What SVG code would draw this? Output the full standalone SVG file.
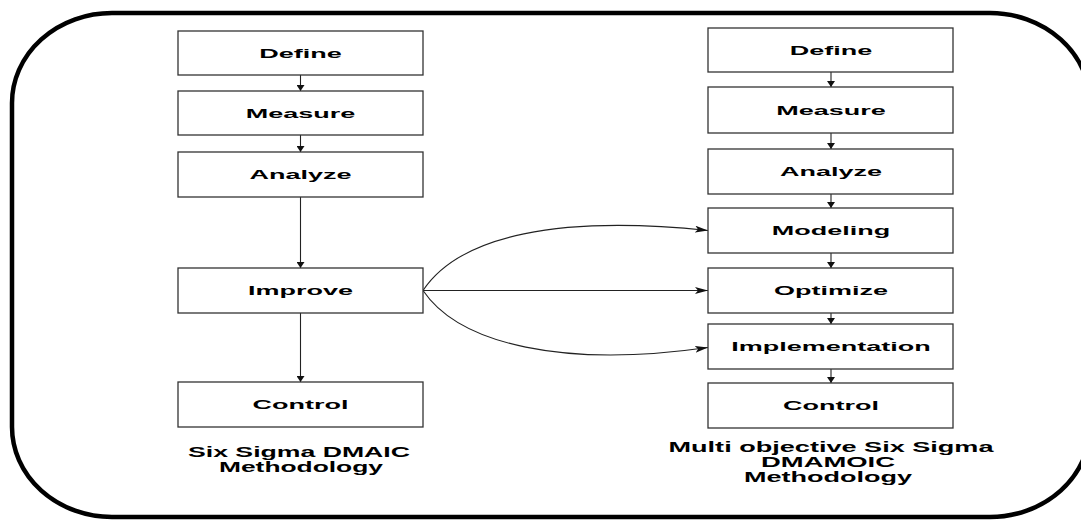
<svg xmlns="http://www.w3.org/2000/svg" width="1081" height="522" viewBox="0 0 1081 522">
<style>
.box{fill:#fff;stroke:#333;stroke-width:1.3}
.t{font-family:"Liberation Sans",Arial,sans-serif;font-weight:bold;font-size:13.5px;fill:#000;text-anchor:middle}
.lbl{font-family:"Liberation Sans",Arial,sans-serif;font-weight:bold;font-size:14px;fill:#000;text-anchor:middle}
.c{fill:none;stroke:#222;stroke-width:1.1}
</style>
<defs>
<marker id="ah" markerUnits="userSpaceOnUse" markerWidth="6" markerHeight="8" refX="6" refY="4" orient="auto" viewBox="0 0 6 8">
<path d="M0,0 L6,4 L0,8 z" fill="#111"/>
</marker>
<marker id="sh" markerUnits="userSpaceOnUse" markerWidth="13" markerHeight="7" refX="13" refY="3.5" orient="auto" viewBox="0 0 13 7">
<path d="M0,0 L13,3.5 L0,7 L3,3.5 z" fill="#111"/>
</marker>
</defs>
<rect id="frame" x="12" y="13" width="1078" height="504" rx="100" ry="90" fill="#fff" stroke="#000" stroke-width="4.5"/>
<g id="connectors">
<path class="c" d="M300.5,75 V91" marker-end="url(#ah)"/>
<path class="c" d="M300.5,135 V152" marker-end="url(#ah)"/>
<path class="c" d="M300.5,197 V268" marker-end="url(#ah)"/>
<path class="c" d="M300.5,313 V382" marker-end="url(#ah)"/>
<path class="c" d="M831,72 V87" marker-end="url(#ah)"/>
<path class="c" d="M831,133 V149" marker-end="url(#ah)"/>
<path class="c" d="M831,194 V208" marker-end="url(#ah)"/>
<path class="c" d="M831,253 V268" marker-end="url(#ah)"/>
<path class="c" d="M831,313 V324" marker-end="url(#ah)"/>
<path class="c" d="M831,369 V383" marker-end="url(#ah)"/>
<path class="c" d="M423,290.5 C460,235 560,215 708,230.5" marker-end="url(#sh)"/>
<path class="c" d="M423,290.5 H708" marker-end="url(#sh)"/>
<path class="c" d="M423,290.5 C460,345 565,368 708,347.5" marker-end="url(#sh)"/>
</g>
<g id="l-define"><rect class="box" x="178" y="31" width="245" height="44"/><text class="t" transform="translate(300.5,57.8) scale(2,1)">Define</text></g>
<g id="l-measure"><rect class="box" x="178" y="91" width="245" height="44"/><text class="t" transform="translate(300.5,117.8) scale(2,1)">Measure</text></g>
<g id="l-analyze"><rect class="box" x="178" y="152" width="245" height="45"/><text class="t" transform="translate(300.5,179.3) scale(2,1)">Analyze</text></g>
<g id="l-improve"><rect class="box" x="178" y="268" width="245" height="45"/><text class="t" transform="translate(300.5,295.3) scale(2,1)">Improve</text></g>
<g id="l-control"><rect class="box" x="178" y="382" width="245" height="45"/><text class="t" transform="translate(300.5,409.3) scale(2,1)">Control</text></g>
<g id="r-define"><rect class="box" x="708" y="28" width="245" height="44"/><text class="t" transform="translate(831,54.8) scale(2,1)">Define</text></g>
<g id="r-measure"><rect class="box" x="708" y="87" width="245" height="46"/><text class="t" transform="translate(831,114.8) scale(2,1)">Measure</text></g>
<g id="r-analyze"><rect class="box" x="708" y="149" width="245" height="45"/><text class="t" transform="translate(831,176.3) scale(2,1)">Analyze</text></g>
<g id="r-modeling"><rect class="box" x="708" y="208" width="245" height="45"/><text class="t" transform="translate(831,235.3) scale(2,1)">Modeling</text></g>
<g id="r-optimize"><rect class="box" x="708" y="268" width="245" height="45"/><text class="t" transform="translate(831,295.3) scale(2,1)">Optimize</text></g>
<g id="r-implementation"><rect class="box" x="708" y="324" width="245" height="45"/><text class="t" transform="translate(831,351.3) scale(2,1)">Implementation</text></g>
<g id="r-control"><rect class="box" x="708" y="383" width="245" height="45"/><text class="t" transform="translate(831,410.3) scale(2,1)">Control</text></g>
<g id="label-left">
<text class="lbl" x="299" y="457" textLength="222" lengthAdjust="spacingAndGlyphs">Six Sigma DMAIC</text>
<text class="lbl" x="301" y="472" textLength="164" lengthAdjust="spacingAndGlyphs">Methodology</text>
</g>
<g id="label-right">
<text class="lbl" x="831" y="452" textLength="325" lengthAdjust="spacingAndGlyphs">Multi objective Six Sigma</text>
<text class="lbl" x="828" y="467" textLength="134" lengthAdjust="spacingAndGlyphs">DMAMOIC</text>
<text class="lbl" x="828" y="482" textLength="168" lengthAdjust="spacingAndGlyphs">Methodology</text>
</g>
</svg>
